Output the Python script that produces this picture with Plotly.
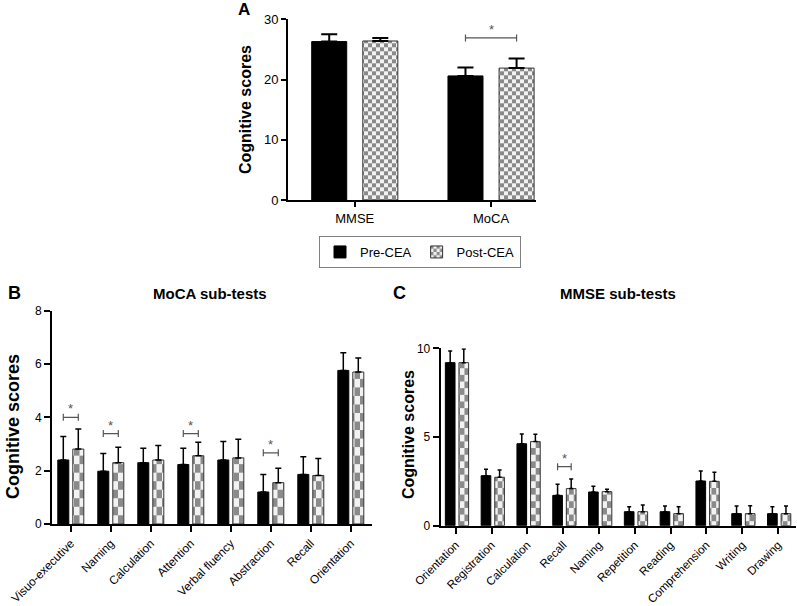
import plotly.graph_objects as go

# ---------------- data ----------------
a_categories = ["MMSE", "MoCA"]
a_pre = [26.3, 20.6]
a_pre_sd = [1.2, 1.4]
a_post = [26.4, 21.9]
a_post_sd = [0.5, 1.6]
a_sig = {"MoCA": 26.9}

b_categories = ["Visuo-executive", "Naming", "Calculation", "Attention",
                "Verbal fluency", "Abstraction", "Recall", "Orientation"]
b_pre = [2.40, 1.98, 2.30, 2.23, 2.40, 1.20, 1.86, 5.76]
b_pre_sd = [0.88, 0.66, 0.54, 0.61, 0.69, 0.66, 0.66, 0.66]
b_post = [2.81, 2.30, 2.40, 2.56, 2.48, 1.55, 1.82, 5.70]
b_post_sd = [0.75, 0.58, 0.54, 0.51, 0.70, 0.54, 0.64, 0.53]
b_sig = {"Visuo-executive": 4.0, "Naming": 3.39, "Attention": 3.39, "Abstraction": 2.67}

c_categories = ["Orientation", "Registration", "Calculation", "Recall", "Naming",
                "Repetition", "Reading", "Comprehension", "Writing", "Drawing"]
c_pre = [9.19, 2.82, 4.62, 1.71, 1.90, 0.79, 0.79, 2.52, 0.68, 0.68]
c_pre_sd = [0.66, 0.36, 0.55, 0.62, 0.32, 0.28, 0.32, 0.56, 0.43, 0.39]
c_post = [9.19, 2.73, 4.74, 2.09, 1.92, 0.79, 0.68, 2.50, 0.68, 0.68]
c_post_sd = [0.77, 0.41, 0.41, 0.54, 0.13, 0.38, 0.39, 0.51, 0.45, 0.43]
c_sig = {"Recall": 3.33}

a_yticks = [0, 10, 20, 30]
b_yticks = [0, 2, 4, 6, 8]
c_yticks = [0, 5, 10]

W, H = 797, 606
FONT = "Arial, Liberation Sans, Helvetica, sans-serif"


def px_x(p):
    return p / W


def px_y(p):
    return 1 - p / H


panels = [
    dict(ax="", cats=a_categories, pre=a_pre, pre_sd=a_pre_sd, post=a_post, post_sd=a_post_sd,
         sig=a_sig, yticks=a_yticks, xdom=[px_x(288), px_x(536)], ydom=[px_y(200), px_y(19.3)],
         xrange=[-0.49, 1.33], yrange=[0, 30], off_pre=-0.316, off_post=0.059, bw=0.257,
         cap=8, eth=2, psize=8, tfont=13, yfont=13, angle=0, legend=True, ticklen=5),
    dict(ax="2", cats=b_categories, pre=b_pre, pre_sd=b_pre_sd, post=b_post, post_sd=b_post_sd,
         sig=b_sig, yticks=b_yticks, xdom=[px_x(52), px_x(372)], ydom=[px_y(524), px_y(310.7)],
         xrange=[-0.47, 7.53], yrange=[0, 8], off_pre=-0.325, off_post=0.05, bw=0.275,
         cap=3, eth=1.5, psize=11, tfont=11.8, yfont=12, angle=-45, legend=False, ticklen=6),
    dict(ax="3", cats=c_categories, pre=c_pre, pre_sd=c_pre_sd, post=c_post, post_sd=c_post_sd,
         sig=c_sig, yticks=c_yticks, xdom=[px_x(440.7), px_x(796)], ydom=[px_y(525.7), px_y(348.3)],
         xrange=[-0.42, 9.505], yrange=[0, 10], off_pre=-0.29, off_post=0.09, bw=0.27,
         cap=2, eth=1.5, psize=9.5, tfont=11.6, yfont=12, angle=-45, legend=False, ticklen=6),
]

fig = go.Figure()
shapes = []
annotations = []
layout_axes = {}

for p in panels:
    xa = "x" + p["ax"]
    ya = "y" + p["ax"]
    n = len(p["cats"])
    fig.add_trace(go.Bar(
        x=p["cats"], y=p["pre"], name="Pre-CEA", xaxis=xa, yaxis=ya,
        offset=p["off_pre"], width=p["bw"],
        marker=dict(color="black", line=dict(color="black", width=1)),
        error_y=dict(type="data", array=p["pre_sd"], arrayminus=[0] * n, symmetric=False,
                     color="black", thickness=p["eth"], width=p["cap"]),
        showlegend=p["legend"], legendgroup="pre", hoverinfo="skip",
    ))
    fig.add_trace(go.Bar(
        x=p["cats"], y=p["post"], name="Post-CEA", xaxis=xa, yaxis=ya,
        offset=p["off_post"], width=p["bw"],
        marker=dict(color="#f2f2f2", line=dict(color="#333333", width=1),
                    pattern=dict(shape="+", size=p["psize"], solidity=0.5,
                                 fgcolor="#8a8a8a", bgcolor="#f2f2f2", fillmode="replace")),
        error_y=dict(type="data", array=p["post_sd"], arrayminus=[0] * n, symmetric=False,
                     color="black", thickness=p["eth"], width=p["cap"]),
        showlegend=p["legend"], legendgroup="post", hoverinfo="skip",
    ))
    axname = "xaxis" + p["ax"]
    ayname = "yaxis" + p["ax"]
    layout_axes[axname] = dict(
        domain=p["xdom"], range=p["xrange"], anchor=ya, type="category", automargin=False,
        showline=True, linecolor="black", linewidth=2, showgrid=False, zeroline=False,
        ticks="outside", ticklen=p["ticklen"], tickwidth=2, tickcolor="black",
        tickangle=p["angle"], tickfont=dict(family=FONT, size=p["tfont"], color="black"),
        fixedrange=True,
    )
    layout_axes[ayname] = dict(
        domain=p["ydom"], range=p["yrange"], anchor=xa, automargin=False,
        showline=True, linecolor="black", linewidth=2, showgrid=False, zeroline=False,
        ticks="outside", ticklen=p["ticklen"], tickwidth=2, tickcolor="black",
        tickvals=p["yticks"], tickfont=dict(family=FONT, size=p["yfont"], color="black"),
        fixedrange=True,
    )
    # significance brackets
    for cat, yv in p["sig"].items():
        i = p["cats"].index(cat)
        x0 = i + p["off_pre"] + p["bw"] / 2
        x1 = i + p["off_post"] + p["bw"] / 2
        shapes.append(dict(type="line", xref=xa, yref=ya, x0=x0, x1=x1, y0=yv, y1=yv,
                           line=dict(color="#555555", width=1.2)))
        for xe in (x0, x1):
            shapes.append(dict(type="line", xref=xa, yref=ya, x0=xe, x1=xe,
                               ysizemode="pixel", yanchor=yv, y0=-3.5, y1=3.5,
                               line=dict(color="#555555", width=1.2)))
        annotations.append(dict(x=(x0 + x1) / 2, y=yv, xref=xa, yref=ya, text="*",
                                showarrow=False, yanchor="bottom", yshift=-1,
                                font=dict(family=FONT, size=13, color="#555555")))

# text annotations
def txt(x, y, text, size, bold=True, angle=0, xanchor="center", yanchor="middle"):
    annotations.append(dict(x=px_x(x), y=px_y(y), xref="paper", yref="paper",
                            text=("<b>%s</b>" % text) if bold else text, showarrow=False,
                            textangle=angle, xanchor=xanchor, yanchor=yanchor,
                            font=dict(family=FONT, size=size, color="black")))

txt(244, 10, "A", 17)
txt(14, 293, "B", 18)
txt(399, 293, "C", 18)
txt(210, 293, "MoCA sub-tests", 15)
txt(618, 293, "MMSE sub-tests", 15)
txt(246, 110, "Cognitive scores", 16, angle=-90)
txt(13, 427, "Cognitive scores", 18, angle=-90)
txt(408, 435, "Cognitive scores", 16, angle=-90)

fig.update_layout(
    template="none",
    width=W, height=H, margin=dict(l=0, r=0, t=0, b=0, autoexpand=False),
    paper_bgcolor="white", plot_bgcolor="white",
    barmode="overlay", hovermode=False,
    font=dict(family=FONT, color="black"),
    shapes=shapes, annotations=annotations,
    legend=dict(orientation="h", x=px_x(420), xanchor="center", y=px_y(236), yanchor="top",
                bordercolor="#808080", borderwidth=1, font=dict(family=FONT, size=13),
                itemwidth=30, traceorder="normal", bgcolor="white"),
    **layout_axes,
)

post_js = """
document.documentElement.style.margin = '0';
document.body.style.margin = '0';
document.body.style.padding = '0';
document.body.style.overflow = 'hidden';
var gd = document.getElementById('{plot_id}');
var ns = 'http://www.w3.org/2000/svg';
var ratios = {'8': 1.0, '11': 1.55, '9.5': 1.4};
function checker(){
  gd.querySelectorAll('pattern').forEach(function(p){
    if (p.getAttribute('data-checker')) return;
    var w = parseFloat(p.getAttribute('width'));
    var r = ratios[String(w)] || 1.0;
    var h = w * r;
    p.setAttribute('height', h);
    while (p.firstChild) p.removeChild(p.firstChild);
    var bg = document.createElementNS(ns, 'rect');
    bg.setAttribute('width', w); bg.setAttribute('height', h);
    bg.setAttribute('fill', '#f2f2f2');
    p.appendChild(bg);
    [[0, 0], [w / 2, h / 2]].forEach(function(o){
      var r2 = document.createElementNS(ns, 'rect');
      r2.setAttribute('x', o[0]); r2.setAttribute('y', o[1]);
      r2.setAttribute('width', w / 2); r2.setAttribute('height', h / 2);
      r2.setAttribute('fill', '#8a8a8a');
      p.appendChild(r2);
    });
    p.setAttribute('data-checker', '1');
  });
}
checker();
gd.on('plotly_afterplot', checker);
"""

fig.write_html("out.html", config={"displayModeBar": False, "staticPlot": True}, post_script=post_js)
